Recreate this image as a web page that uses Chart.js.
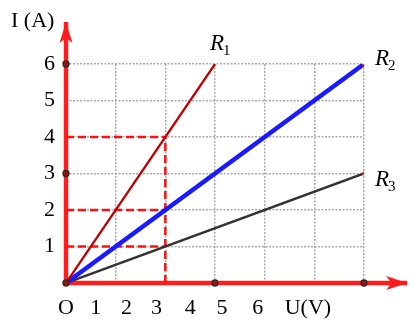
<!DOCTYPE html>
<html><head><meta charset="utf-8">
<script src="https://cdn.jsdelivr.net/npm/chart.js@4.4.1/dist/chart.umd.min.js"></script>
<style>html,body{margin:0;padding:0;background:#fff;}canvas{display:block}</style>
</head><body>
<canvas id="c" width="413" height="333"></canvas>
<script>
// ---- data ----
const iTicks = [0, 1, 2, 3, 4, 5, 6];
const yLabelText = ['', '1', '2', '3', '4', '5', '6'];
const xLabelText = ['O', '1', '2', '3', '4', '5', '6', 'U(V)'];
const xLabelAt = [0, 0.6, 1.22, 1.82, 2.5, 3.14, 3.86, 4.87];
const seriesNames = ['R', 'R', 'R'];
const seriesSubs = ['1', '2', '3'];
const r1U = [0, 3], r1I = [0, 6];
const r2U = [0, 6], r2I = [0, 6];
const r3U = [0, 6], r3I = [0, 3];
const readU = 2;
const readI = [4, 2, 1];
const markU = [0, 0, 0, 3, 6];
const markI = [6, 3, 0, 0, 0];
const uAxisEnd = 6.87, iAxisEnd = 7.15;

const pts = (us, is) => us.map((u, k) => ({x: u, y: is[k]}));
const SERIF = '"Liberation Serif", "Times New Roman", serif';
const AXIS_RED = '#ff1c1c';
const GUIDE_RED = '#ff1010';
const HEAD = 20;

const guideSets = readI.map(v => ({
  data: pts([0, readU], [v, v]), showLine: true, borderColor: GUIDE_RED, borderWidth: 2.5,
  borderDash: [8, 4], pointRadius: 0, order: 8
}));

const ends = [[r1U[1], r1I[1], -5, -14], [r2U[1], r2I[1], 11, 1], [r3U[1], r3I[1], 11, 12.5]];

const textPlugin = {
  id: 'texts',
  afterDatasetsDraw(chart) {
    const {ctx, scales: {x, y}} = chart;
    ctx.save();
    // arrowheads at the axis ends
    ctx.fillStyle = AXIS_RED;
    const ox = x.getPixelForValue(0), oy = y.getPixelForValue(0);
    const ty = y.getPixelForValue(iAxisEnd), tx = x.getPixelForValue(uAxisEnd);
    ctx.beginPath();
    ctx.moveTo(ox, ty); ctx.lineTo(ox - 6.5, ty + HEAD + 1); ctx.lineTo(ox, ty + HEAD - 4); ctx.lineTo(ox + 6.5, ty + HEAD + 1);
    ctx.closePath(); ctx.fill();
    ctx.beginPath();
    ctx.moveTo(tx, oy); ctx.lineTo(tx - HEAD - 1, oy - 7); ctx.lineTo(tx - HEAD + 4, oy); ctx.lineTo(tx - HEAD - 1, oy + 7);
    ctx.closePath(); ctx.fill();

    ctx.fillStyle = '#000';
    ctx.textAlign = 'left';
    ctx.textBaseline = 'middle';
    ctx.font = '22px ' + SERIF;
    ctx.fillText('I (A)', 11, 21);
    ctx.textBaseline = 'alphabetic';
    ends.forEach((e, k) => {
      const px = x.getPixelForValue(e[0]) + e[2];
      const py = y.getPixelForValue(e[1]) + e[3];
      ctx.font = 'italic 23px ' + SERIF;
      ctx.fillText(seriesNames[k], px, py);
      const w = ctx.measureText(seriesNames[k]).width;
      ctx.font = '15px ' + SERIF;
      ctx.fillText(seriesSubs[k], px + w - 1, py + 5);
    });
    ctx.restore();
  }
};

new Chart(document.getElementById('c'), {
  type: 'scatter',
  data: {
    datasets: [
      {label: 'U axis', data: pts([0, uAxisEnd], [0, 0]), showLine: true, borderColor: AXIS_RED, borderWidth: 4.5,
        pointRadius: 0, clip: false, order: 10},
      {label: 'I axis', data: pts([0, 0], [0, iAxisEnd]), showLine: true, borderColor: AXIS_RED, borderWidth: 4.5,
        pointRadius: 0, clip: false, order: 10},
      ...guideSets,
      {label: 'guide v', data: pts([readU, readU], [0, Math.max(...readI)]), showLine: true, borderColor: GUIDE_RED,
        borderWidth: 2.5, borderDash: [8, 4], pointRadius: 0, order: 8},
      {label: 'R3', data: pts(r3U, r3I), showLine: true, borderColor: '#333333', borderWidth: 2.5,
        pointRadius: [0, 2], pointBackgroundColor: '#ff2020', pointBorderWidth: 0, order: 6},
      {label: 'R2', data: pts(r2U, r2I), showLine: true, borderColor: '#1a1aff', borderWidth: 4.5,
        pointRadius: [0, 2], pointBackgroundColor: '#ff2020', pointBorderWidth: 0, order: 5},
      {label: 'R1', data: pts(r1U, r1I), showLine: true, borderColor: '#c00000', borderWidth: 2.3,
        pointRadius: 0, order: 4},
      {label: 'marks', data: pts(markU, markI), showLine: false, pointRadius: 3,
        pointBackgroundColor: '#a01010', pointBorderColor: '#2a2a2a', pointBorderWidth: 1.3, clip: false, order: 1}
    ]
  },
  options: {
    responsive: false, animation: false, events: [],
    layout: {padding: {top: 64, right: 49, bottom: 0, left: 0}},
    plugins: {legend: {display: false}, tooltip: {enabled: false}, title: {display: false}},
    scales: {
      x: {type: 'linear', min: 0, max: 6, position: 'bottom',
        afterFit: s => { s.height = 0; },
        ticks: {display: false, stepSize: 1},
        grid: {color: 'rgba(150,150,150,0.8)', lineWidth: 1.5, drawTicks: false},
        border: {display: false, dash: [2, 1.5]}},
      x2: {type: 'linear', min: 0, max: 6, position: 'bottom',
        afterFit: s => { s.height = 50; },
        afterBuildTicks: s => { s.ticks = xLabelAt.map(v => ({value: v})); },
        ticks: {autoSkip: false, maxRotation: 0, minRotation: 0, padding: 12, color: '#000',
          font: {family: SERIF, size: 22}, callback: (v, i) => xLabelText[i]},
        grid: {display: false, drawTicks: false}, border: {display: false}},
      y: {type: 'linear', min: 0, max: 6,
        afterFit: s => { s.width = 66; },
        afterBuildTicks: s => { s.ticks = iTicks.map(v => ({value: v})); },
        ticks: {padding: 11, color: '#000', font: {family: SERIF, size: 22},
          callback: (v, i) => yLabelText[i]},
        grid: {color: 'rgba(150,150,150,0.8)', lineWidth: 1.5, drawTicks: false},
        border: {display: false, dash: [2, 1.5]}}
    }
  },
  plugins: [textPlugin]
});
</script>
</body></html>
